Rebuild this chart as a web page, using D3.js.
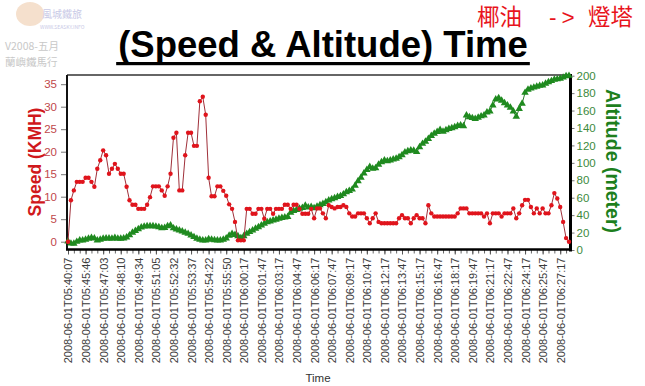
<!DOCTYPE html>
<html><head><meta charset="utf-8">
<script src="https://cdn.jsdelivr.net/npm/d3@7"></script>
<style>body{margin:0;background:#fff;} svg{display:block;}</style>
</head><body><svg id="c" width="645" height="386"></svg>
<script>
const tickLabels = [
"2008-06-01T05:40:07","2008-06-01T05:45:46","2008-06-01T05:47:03","2008-06-01T05:48:10",
"2008-06-01T05:49:34","2008-06-01T05:51:05","2008-06-01T05:52:32","2008-06-01T05:53:37",
"2008-06-01T05:54:22","2008-06-01T05:55:50","2008-06-01T06:00:17","2008-06-01T06:01:47",
"2008-06-01T06:03:17","2008-06-01T06:04:47","2008-06-01T06:06:17","2008-06-01T06:07:47",
"2008-06-01T06:09:17","2008-06-01T06:10:47","2008-06-01T06:12:17","2008-06-01T06:13:47",
"2008-06-01T06:15:17","2008-06-01T06:16:47","2008-06-01T06:18:17","2008-06-01T06:19:47",
"2008-06-01T06:21:17","2008-06-01T06:22:47","2008-06-01T06:24:17","2008-06-01T06:25:47",
"2008-06-01T06:27:17"];
const labelEvery = 6;
const speedTicks = [0,5,10,15,20,25,30,35];
const altTicks = [0,20,40,60,80,100,120,140,160,180,200];

const speed = [
0,9.2,11.4,13.3,13.3,13.3,14.2,14.2,13.3,12.2,
16.2,18.1,20.3,19.2,15.1,16.2,17.3,16.2,15.1,15.1,
12.2,9.2,8.2,8.2,7.3,7.3,7.3,8.2,9.9,12.3,
12.3,12.3,11.4,10.2,12.3,15.1,23.1,24.2,11.4,11.4,
19.2,24.2,24.2,21.3,21.3,31.2,32.2,28.2,14.2,10.1,
10.1,12.3,12.3,11.3,10.2,8.3,7.3,4.4,0.3,0.3,
0.3,7.3,7.3,6.2,6.2,7.3,7.3,5.1,7.3,7.3,
6.2,7.3,7.3,7.3,8.2,8.2,7.3,8.2,8.2,7.3,
6.2,6.2,6.2,7.3,5.2,7.4,7.4,6.3,5.2,8.1,
7.7,7.4,7.7,7.7,8.1,7.7,6.3,5.6,5.6,6.3,
6.3,6.3,5.2,4.1,5.2,6.3,4.4,4.1,4.1,4.1,
4.1,4.1,4.1,5.2,5.9,5.2,5.2,4.1,5.2,5.9,
5.2,5.2,4.1,8.1,6.3,5.6,5.6,5.6,5.6,5.6,
5.6,5.6,5.6,6.3,7.4,7.4,7.4,6.3,6.3,6.3,
6.3,6.3,5.6,6.3,4.1,6.3,6.3,6.3,5.6,6.3,
6.3,6.3,7.4,5.2,6.3,8.1,9.3,9.3,7.7,6.3,
7.4,6.3,7.4,6.3,6.3,8.1,10.8,9.6,7.7,4.4,
0.8,0];

const altitude = [
10,7.5,7.3,9.5,11,11,12,13,14,13.5,
11,12,13,13.5,13.5,13,14,13,13,13.5,
14.5,17,20,22,24,26,27,27.5,27.5,27.5,
27,26.4,25.2,25.5,27.5,28.3,25,23.7,22.6,21.4,
20,18.7,16.8,15,13,12,11,11,12.5,12,
11.5,11,11,12,13.5,16.5,18.7,17.5,16,13.8,
16,18.7,20.7,22.6,24.5,26.4,28.3,30.2,32,33,
34,35,36,37,37.5,38,43,45,46,47.5,
48.5,51,49,49.5,48,50,51.5,53,55,57,
58.5,59.5,61,62,64,66.5,68,69.5,74,79,
83,88,92,95.5,93.5,94,98,101,103,102,
103,104,105,106.7,109,112,113.5,114.5,114,112.5,
118,122,124.5,127.5,131,133.5,135.5,138,136,137.5,
139,140,141,142.5,143,142.2,154.5,152.6,151.5,150.6,
152,153.5,154.5,158,159.1,166,172.8,174.3,171.5,168.5,
166,163.5,159.1,153,162,168,180.5,184,185.5,186.5,
187.5,188.5,189,191,192.7,194,195.5,196,196.6,198,
199.6,200];

const FONT = "'Liberation Sans', Arial, sans-serif";
const svg = d3.select('#c');
const P = {left:67, right:570.5, top:75, bottom:249.5};
const n = speed.length;
const x = d3.scaleLinear().domain([0, n-1]).range([68, 569]);
const yS = d3.scaleLinear().domain([0,35]).range([241.7, 84.2]);
const yA = d3.scaleLinear().domain([0,200]).range([250, 75.7]);

// watermark
const wm = svg.append('g').attr('font-family', "'Noto Sans CJK TC', sans-serif").attr('fill','#c8c8c8');
wm.append('ellipse').attr('cx',30).attr('cy',14).attr('rx',14).attr('ry',12).attr('fill','#f3d8c0').attr('opacity',0.8);
wm.append('text').attr('x',42).attr('y',18).attr('font-size',10).attr('fill','#c9c9e6').text('風城鐵旅');
wm.append('text').attr('x',40).attr('y',29).attr('font-size',5).attr('fill','#c9c9e6').text('WWW.SEASKY.INFO');
wm.append('text').attr('x',5).attr('y',50).attr('font-size',10.5).text('V2008-五月');
wm.append('text').attr('x',5).attr('y',66).attr('font-size',10.5).text('蘭嶼鐵馬行');

// top right text
const tr = svg.append('text').attr('y',25)
  .attr('font-family',"'Liberation Sans', 'Noto Sans CJK TC', sans-serif").attr('font-size',22.5)
  .attr('fill','#e8141c');
tr.append('tspan').attr('x',477).text('椰油');
tr.append('tspan').attr('x',549).attr('letter-spacing',5).text('->');
tr.append('tspan').attr('x',588).text('燈塔');

// title
const title = svg.append('text').attr('x',323).attr('y',57).attr('text-anchor','middle')
  .attr('font-family',FONT).attr('font-weight','bold').attr('font-size',36.5).attr('fill','#000')
  .text('(Speed & Altitude) Time');
const tw = title.node().getComputedTextLength();
svg.append('rect').attr('x',323 - tw/2 - 2).attr('y',62).attr('width',tw+4).attr('height',3.2).attr('fill','#000');

// plot frame
svg.append('line').attr('x1',P.left).attr('x2',P.right).attr('y1',P.top).attr('y2',P.top).attr('stroke','#333').attr('stroke-width',1.5);
svg.append('line').attr('x1',P.left).attr('x2',P.left).attr('y1',P.top).attr('y2',P.bottom).attr('stroke','#111').attr('stroke-width',2);

// left axis
const gL = svg.append('g').attr('transform',`translate(${P.left-1},0)`)
  .call(d3.axisLeft(yS).tickValues(speedTicks).tickSize(5).tickPadding(4));
gL.select('.domain').remove();
gL.selectAll('line').attr('stroke','#777');
gL.selectAll('text').attr('font-family',FONT).attr('font-size',11.5).attr('fill','#c0474a');

// right axis
const gR = svg.append('g').attr('transform',`translate(${P.right},0)`)
  .call(d3.axisRight(yA).tickValues(altTicks).tickSize(4).tickPadding(2));
gR.select('.domain').remove();
gR.selectAll('line').attr('stroke','#777');
gR.selectAll('text').attr('font-family',FONT).attr('font-size',11.5).attr('fill','#3c8a3c');
svg.append('line').attr('x1',P.right).attr('x2',P.right).attr('y1',P.top-1).attr('y2',251.5).attr('stroke','#000').attr('stroke-width',3);

// bottom axis minor ticks
const gBm = svg.append('g').attr('transform',`translate(0,${P.bottom})`)
  .call(d3.axisBottom(x).tickValues(d3.range(0,n,2)).tickSize(4).tickFormat(''));
gBm.select('.domain').remove();
gBm.selectAll('line').attr('stroke','#666');
const gB = svg.append('g').attr('transform',`translate(0,${P.bottom})`)
  .call(d3.axisBottom(x).tickValues(tickLabels.map((d,i)=>i*labelEvery)).tickSize(5).tickFormat((d,i)=>tickLabels[i]));
gB.select('.domain').remove();
gB.selectAll('line').attr('stroke','#555');
gB.selectAll('text').attr('font-family',FONT).attr('font-size',11).attr('fill','#3a3a3a')
  .attr('transform','rotate(-90)').attr('text-anchor','end').attr('x',-8).attr('y',0).attr('dy','0.36em');
svg.append('line').attr('x1',P.left-1).attr('x2',P.right).attr('y1',P.bottom).attr('y2',P.bottom).attr('stroke','#000').attr('stroke-width',2.5);

// axis titles
svg.append('text').attr('transform','translate(41,162) rotate(-90)').attr('text-anchor','middle')
  .attr('font-family',FONT).attr('font-weight','bold').attr('font-size',17.5).attr('fill','#d0181c').text('Speed (KMH)');
svg.append('text').attr('transform','translate(606,161) rotate(90)').attr('text-anchor','middle')
  .attr('font-family',FONT).attr('font-weight','bold').attr('font-size',19.5).attr('fill','#1d7f1d').text('Altitude (meter)');
svg.append('text').attr('x',318).attr('y',382).attr('text-anchor','middle')
  .attr('font-family',FONT).attr('font-size',11.5).attr('fill','#333').text('Time');

// altitude series
svg.append('path').datum(altitude).attr('fill','none').attr('stroke','#2a7a2a').attr('stroke-width',1)
  .attr('d', d3.line().x((d,i)=>x(i)).y(d=>yA(d)));
svg.append('g').selectAll('path').data(altitude).join('path')
  .attr('transform',(d,i)=>`translate(${x(i)},${yA(d)})`)
  .attr('d', d3.symbol(d3.symbolTriangle, 24)).attr('fill','#1f8a1f');

// speed series
svg.append('path').datum(speed).attr('fill','none').attr('stroke','#a0303a').attr('stroke-width',1)
  .attr('d', d3.line().x((d,i)=>x(i)).y(d=>yS(d)));
svg.append('g').selectAll('circle').data(speed).join('circle')
  .attr('cx',(d,i)=>x(i)).attr('cy',d=>yS(d)).attr('r',2.2).attr('fill','#e0141c');
</script></body></html>
